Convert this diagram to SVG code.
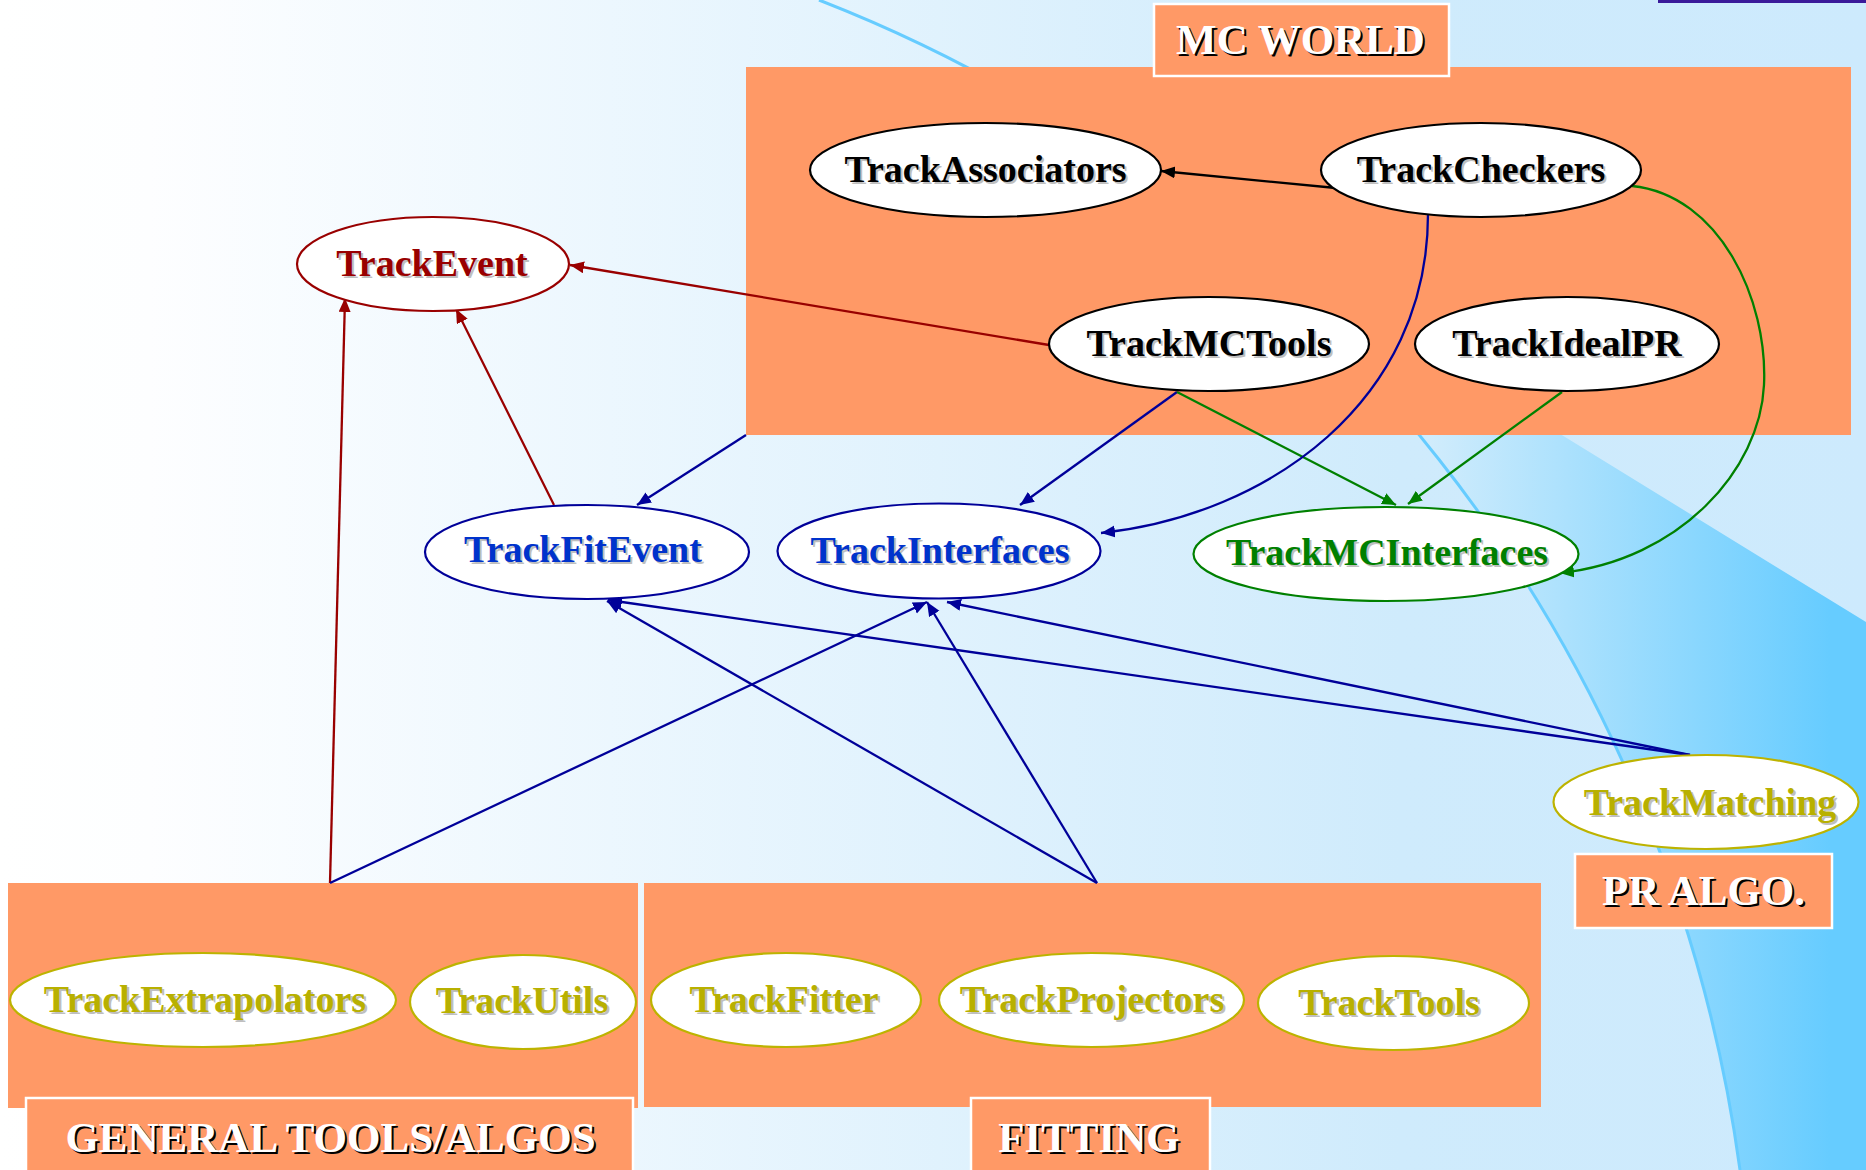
<svg xmlns="http://www.w3.org/2000/svg" width="1866" height="1170" viewBox="0 0 1866 1170">
<defs>
<linearGradient id="bg" x1="0" y1="0" x2="1866" y2="0" gradientUnits="userSpaceOnUse">
<stop offset="0" stop-color="#ffffff"/>
<stop offset="0.08" stop-color="#fdfeff"/>
<stop offset="0.75" stop-color="#cfebfc"/>
<stop offset="1" stop-color="#cdeafd"/>
</linearGradient>
<linearGradient id="dark" x1="1430" y1="0" x2="1830" y2="0" gradientUnits="userSpaceOnUse">
<stop offset="0" stop-color="#d0ecfc"/>
<stop offset="1" stop-color="#66ccff"/>
</linearGradient>
<marker id="aBlack" markerUnits="userSpaceOnUse" markerWidth="15" markerHeight="13" refX="14" refY="6" orient="auto"><path d="M0,0 L14,6 L0,12 z" fill="#000000"/></marker>
<marker id="aRed" markerUnits="userSpaceOnUse" markerWidth="15" markerHeight="13" refX="14" refY="6" orient="auto"><path d="M0,0 L14,6 L0,12 z" fill="#990000"/></marker>
<marker id="aNavy" markerUnits="userSpaceOnUse" markerWidth="15" markerHeight="13" refX="14" refY="6" orient="auto"><path d="M0,0 L14,6 L0,12 z" fill="#000099"/></marker>
<marker id="aGreen" markerUnits="userSpaceOnUse" markerWidth="15" markerHeight="13" refX="14" refY="6" orient="auto"><path d="M0,0 L14,6 L0,12 z" fill="#008000"/></marker>
</defs>
<style>
.cluster{fill:#ff9966;}
.lbox{fill:#ff9966;stroke:#ffffff;stroke-width:2.5;}
.lbl{font-family:"Liberation Serif","Times New Roman",serif;font-weight:bold;font-size:43px;text-anchor:middle;}
.lsh{fill:#000000;}
.lfg{fill:#ffffff;}
.nt{font-family:"Liberation Serif","Times New Roman",serif;font-weight:bold;font-size:38px;text-anchor:middle;}
.sh{fill:#aaaaaa;opacity:0.75;}
.el{fill:#ffffff;stroke-width:2.2;}
.k{stroke:#000000;} .kt{fill:#000000;}
.r{stroke:#990000;} .rt{fill:#990000;}
.b{stroke:#000099;} .bt{fill:#0033cc;}
.g{stroke:#008000;} .gt{fill:#008000;}
.y{stroke:#bdb300;} .yt{fill:#b8b000;}
.e{fill:none;stroke-width:2.3;}
</style>

<rect x="0" y="0" width="1866" height="1170" fill="url(#bg)"/>
<path d="M1293,300 L1342,300 L1866,622 L1866,1170 L1740,1170 A1467,1467 0 0 0 1293,300 Z" fill="url(#dark)"/>
<path d="M819,0 A1467,1467 0 0 1 1740,1170" fill="none" stroke="#66ccff" stroke-width="3"/>
<rect x="1658" y="0" width="208" height="3" fill="#3a1a9a"/>

<g id="cluster-mc"><rect class="cluster" x="746" y="67" width="1105" height="368"/></g>
<g id="cluster-general"><rect class="cluster" x="8" y="883" width="630" height="225"/></g>
<g id="cluster-fitting"><rect class="cluster" x="644" y="883" width="897" height="224"/></g>

<g id="connectors">
<path class="e" stroke="#000000" d="M1336,188 L1161,171" marker-end="url(#aBlack)"/>
<path class="e" stroke="#990000" d="M1049,345 L570,265" marker-end="url(#aRed)"/>
<path class="e" stroke="#990000" d="M554,505 L456,309" marker-end="url(#aRed)"/>
<path class="e" stroke="#990000" d="M330,883 L345,298" marker-end="url(#aRed)"/>
<path class="e" stroke="#000099" d="M330,883 L927,602" marker-end="url(#aNavy)"/>
<path class="e" stroke="#000099" d="M1097,883 L607,601" marker-end="url(#aNavy)"/>
<path class="e" stroke="#000099" d="M1097,883 L927,602" marker-end="url(#aNavy)"/>
<path class="e" stroke="#000099" stroke-width="2.8" d="M1690,755 L608,600" marker-end="url(#aNavy)"/>
<path class="e" stroke="#000099" stroke-width="2.8" d="M1690,755 L947,602" marker-end="url(#aNavy)"/>
<path class="e" stroke="#000099" d="M746,435 L637,505" marker-end="url(#aNavy)"/>
<path class="e" stroke="#000099" d="M1177,392 L1020,505" marker-end="url(#aNavy)"/>
<path class="e" stroke="#008000" d="M1177,392 L1396,505" marker-end="url(#aGreen)"/>
<path class="e" stroke="#008000" d="M1562,392 L1408,504" marker-end="url(#aGreen)"/>
<path class="e" stroke="#000099" d="M1428,214 C1428,400 1270,515 1101,533" marker-end="url(#aNavy)"/>
<path class="e" stroke="#008000" d="M1632,186 C1720,195 1768,300 1764,385 C1760,470 1680,560 1560,573" marker-end="url(#aGreen)"/>
</g>

<g id="TrackAssociators"><ellipse class="el k" cx="985.5" cy="170" rx="175.5" ry="47"/><text class="nt sh" x="987.5" y="184">TrackAssociators</text><text class="nt kt" x="985.5" y="182">TrackAssociators</text></g>
<g id="TrackCheckers"><ellipse class="el k" cx="1481" cy="170" rx="160" ry="47"/><text class="nt sh" x="1483" y="184">TrackCheckers</text><text class="nt kt" x="1481" y="182">TrackCheckers</text></g>
<g id="TrackMCTools"><ellipse class="el k" cx="1209" cy="344" rx="160" ry="47"/><text class="nt sh" x="1211" y="358">TrackMCTools</text><text class="nt kt" x="1209" y="356">TrackMCTools</text></g>
<g id="TrackIdealPR"><ellipse class="el k" cx="1567" cy="344" rx="152" ry="47"/><text class="nt sh" x="1569" y="358">TrackIdealPR</text><text class="nt kt" x="1567" y="356">TrackIdealPR</text></g>
<g id="TrackEvent"><ellipse class="el r" cx="433" cy="264" rx="136" ry="47"/><text class="nt sh" x="434" y="278">TrackEvent</text><text class="nt rt" x="432" y="276">TrackEvent</text></g>
<g id="TrackFitEvent"><ellipse class="el b" cx="587" cy="552" rx="162" ry="47"/><text class="nt sh" x="585" y="564">TrackFitEvent</text><text class="nt bt" x="583" y="562">TrackFitEvent</text></g>
<g id="TrackInterfaces"><ellipse class="el b" cx="939" cy="551" rx="161.5" ry="47.5"/><text class="nt sh" x="942" y="565">TrackInterfaces</text><text class="nt bt" x="940" y="563">TrackInterfaces</text></g>
<g id="TrackMCInterfaces"><ellipse class="el g" cx="1386" cy="554" rx="192.5" ry="47"/><text class="nt sh" x="1389" y="567">TrackMCInterfaces</text><text class="nt gt" x="1387" y="565">TrackMCInterfaces</text></g>
<g id="TrackMatching"><ellipse class="el y" cx="1706" cy="802" rx="152.5" ry="47"/><text class="nt sh" x="1712" y="817">TrackMatching</text><text class="nt yt" x="1710" y="815">TrackMatching</text></g>
<g id="TrackExtrapolators"><ellipse class="el y" cx="203" cy="1000" rx="193" ry="47"/><text class="nt sh" x="207" y="1014">TrackExtrapolators</text><text class="nt yt" x="205" y="1012">TrackExtrapolators</text></g>
<g id="TrackUtils"><ellipse class="el y" cx="523" cy="1002" rx="113" ry="47"/><text class="nt sh" x="524" y="1015">TrackUtils</text><text class="nt yt" x="522" y="1013">TrackUtils</text></g>
<g id="TrackFitter"><ellipse class="el y" cx="786" cy="1000" rx="135" ry="47"/><text class="nt sh" x="786" y="1014">TrackFitter</text><text class="nt yt" x="784" y="1012">TrackFitter</text></g>
<g id="TrackProjectors"><ellipse class="el y" cx="1091.5" cy="1000" rx="152.5" ry="47"/><text class="nt sh" x="1094" y="1014">TrackProjectors</text><text class="nt yt" x="1092" y="1012">TrackProjectors</text></g>
<g id="TrackTools"><ellipse class="el y" cx="1393.5" cy="1003" rx="135.5" ry="47"/><text class="nt sh" x="1391" y="1017">TrackTools</text><text class="nt yt" x="1389" y="1015">TrackTools</text></g>

<g id="label-mc"><rect class="lbox" x="1154" y="4" width="295" height="72"/><text class="lbl lsh" x="1302.5" y="56">MC WORLD</text><text class="lbl lfg" x="1300.5" y="54">MC WORLD</text></g>
<g id="label-pr"><rect class="lbox" x="1575" y="854" width="257" height="74"/><text class="lbl lsh" x="1705.5" y="907">PR ALGO.</text><text class="lbl lfg" x="1703.5" y="905">PR ALGO.</text></g>
<g id="label-general"><rect class="lbox" x="26" y="1098" width="607" height="80"/><text class="lbl lsh" x="332.5" y="1154">GENERAL TOOLS/ALGOS</text><text class="lbl lfg" x="330.5" y="1152">GENERAL TOOLS/ALGOS</text></g>
<g id="label-fitting"><rect class="lbox" x="971" y="1098" width="239" height="80"/><text class="lbl lsh" x="1091" y="1154">FITTING</text><text class="lbl lfg" x="1089" y="1152">FITTING</text></g>
</svg>
